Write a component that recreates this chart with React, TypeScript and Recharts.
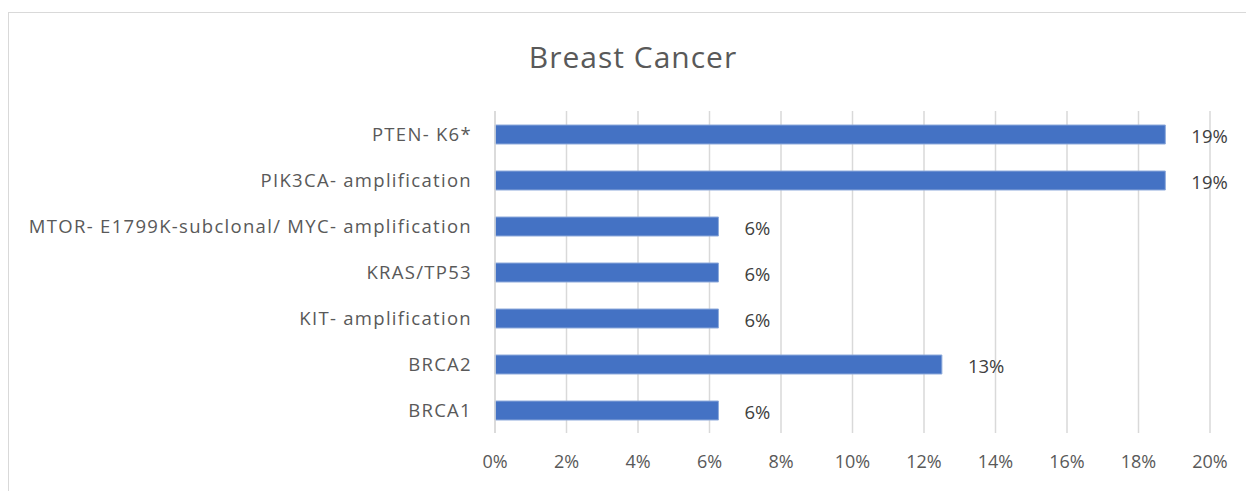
import React from 'react';
import { BarChart, Bar, XAxis, YAxis, CartesianGrid, LabelList } from 'recharts';

// Share of patients per alteration (top to bottom as drawn)
const categories = [
  'PTEN- K6*',
  'PIK3CA- amplification',
  'MTOR- E1799K-subclonal/ MYC- amplification',
  'KRAS/TP53',
  'KIT- amplification',
  'BRCA2',
  'BRCA1',
];
const shares = [0.1875, 0.1875, 0.0625, 0.0625, 0.0625, 0.125, 0.0625];
const xTicks = [0, 0.02, 0.04, 0.06, 0.08, 0.1, 0.12, 0.14, 0.16, 0.18, 0.2];

const data = categories.map((name, i) => ({ name, value: shares[i] }));

const FONT = '"Open Sans", sans-serif';
const GREY = '#595959';

const pct = (v: number) => `${Math.round(v * 100)}%`;

const ValueLabel = (props: any) => {
  const { x, y, width, height, value } = props;
  return (
    <text
      x={x + width + 26}
      y={y + height / 2 + 4}
      dominantBaseline="middle"
      fill="#404040"
      fontSize={18.5}
      fontFamily={FONT}
    >
      {pct(value)}
    </text>
  );
};

export default function App() {
  return (
    <div style={{ position: 'absolute', left: 0, top: 0, width: 1246, height: 491, background: '#fff', overflow: 'hidden' }}>
      <div
        style={{
          position: 'absolute',
          left: 8,
          top: 12,
          width: 1260,
          height: 500,
          border: '1px solid #d9d9d9',
          boxSizing: 'border-box',
        }}
      />
      <div
        style={{
          position: 'absolute',
          left: 0,
          top: 36,
          width: 1266,
          textAlign: 'center',
          fontFamily: FONT,
          fontSize: 30,
          letterSpacing: 1,
          color: GREY,
        }}
      >
        Breast Cancer
      </div>
      <div style={{ position: 'absolute', left: 0, top: 0 }}>
        <BarChart
          width={1246}
          height={491}
          data={data}
          layout="vertical"
          margin={{ top: 111, right: 36, bottom: 0, left: 0 }}
          barSize={19}
        >
          <CartesianGrid horizontal={false} stroke="#d9d9d9" strokeWidth={1.5} />
          <XAxis
            type="number"
            domain={[0, 0.2]}
            ticks={xTicks}
            tickFormatter={pct}
            axisLine={false}
            tickLine={false}
            tickSize={0}
            tickMargin={22}
            height={58}
            interval={0}
            tick={{ fill: GREY, fontSize: 18, fontFamily: FONT }}
          />
          <YAxis
            type="category"
            dataKey="name"
            width={495}
            axisLine={{ stroke: '#d9d9d9', strokeWidth: 1.5 }}
            tickLine={false}
            tickSize={0}
            tickMargin={23}
            interval={0}
            tick={{ fill: GREY, fontSize: 18.5, fontFamily: FONT, letterSpacing: 1.3 }}
          />
          <Bar dataKey="value" fill="#4472C4" stroke="#8eaadb" strokeWidth={1} isAnimationActive={false}>
            <LabelList dataKey="value" content={<ValueLabel />} />
          </Bar>
        </BarChart>
      </div>
    </div>
  );
}
